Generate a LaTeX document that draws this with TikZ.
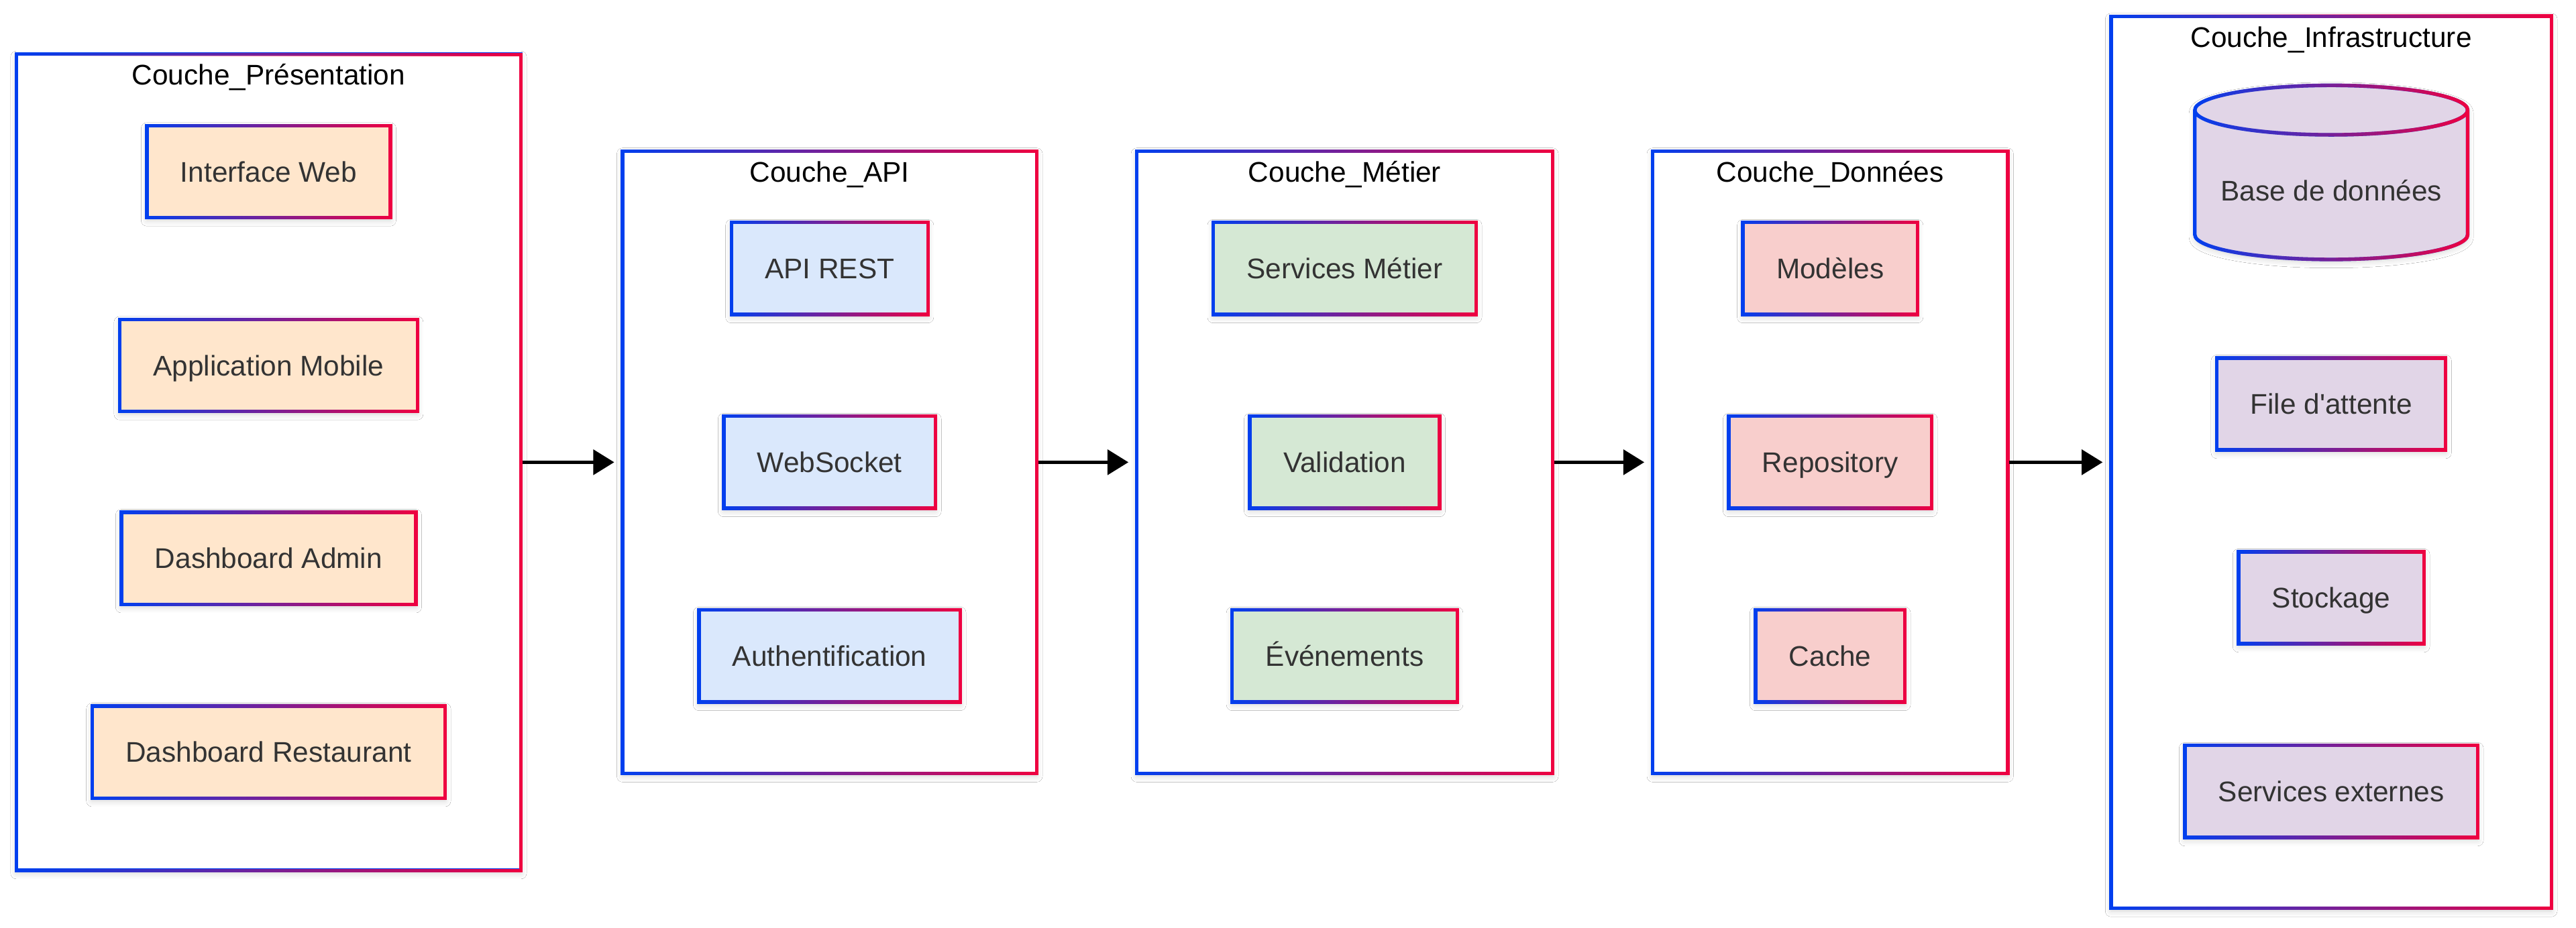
\documentclass[tikz,border=0pt]{standalone}
\usepackage{fontspec}
\setmainfont{Liberation Sans}[Ligatures=TeXOff]
\usetikzlibrary{arrows.meta,shapes.geometric,fadings,shadows.blur}

\definecolor{gblue}{RGB}{0,64,240}
\definecolor{gred}{RGB}{240,0,64}
\definecolor{txtgray}{HTML}{333333}
\definecolor{presfill}{HTML}{FFE6CC}
\definecolor{apifill}{HTML}{DAE8FC}
\definecolor{metfill}{HTML}{D5E8D4}
\definecolor{donfill}{HTML}{F8CECC}
\definecolor{infrafill}{HTML}{E1D5E7}

\tikzfading[name=fade in east, left color=transparent!100, right color=transparent!0]

\begin{document}
\begin{tikzpicture}[x=0.025cm, y=-0.025cm,
		gradborder/.style={draw=gblue, line width=1.55pt,
			postaction={draw=gred, line width=1.55pt, path fading=fade in east}},
		softshadow/.style={blur shadow={shadow xshift=0pt, shadow yshift=-1.2pt,
			shadow blur radius=2.5pt, shadow opacity=18}},
		layer/.style={rectangle, gradborder, fill=white, softshadow},
		comp/.style={rectangle, gradborder, softshadow, minimum height=1.4cm,
			inner xsep=0.51cm, text height=8.8pt, text depth=0pt, text=txtgray,
			font=\fontsize{12.3pt}{14pt}\selectfont},
		title/.style={anchor=base, font=\fontsize{12.3pt}{14pt}\selectfont},
		arr/.style={line width=1.55pt, -{Triangle[length=3.2mm, width=3.8mm]}, shorten >=1mm}]
		\fill[white] (0,0) rectangle (1568,565.1);
		\useasboundingbox (0,0) rectangle (1568,565.1);
		\def\yc{281.5}
		\def\xp{163.5}
		\def\xa{505}
		\def\xm{818.5}
		\def\xd{1114}
		\def\xi{1419}
		% layers
		\node[layer, minimum width=7.675cm, minimum height=12.425cm] (pres) at (\xp, \yc) {};
		\node[layer, minimum width=6.3cm, minimum height=9.475cm] (api) at (\xa, \yc) {};
		\node[layer, minimum width=6.325cm, minimum height=9.475cm] (metier) at (\xm, \yc) {};
		\node[layer, minimum width=5.4cm, minimum height=9.475cm] (donnees) at (\xd, \yc) {};
		\node[layer, minimum width=6.7cm, minimum height=13.575cm] (infra) at (\xi, \yc) {};
		\node[title] (tpres) at ([yshift=-5mm]pres.north) {Couche\_Présentation};
		\node[title] (tapi) at ([yshift=-5mm]api.north) {Couche\_API};
		\node[title] (tmetier) at ([yshift=-5mm]metier.north) {Couche\_Métier};
		\node[title] (tdonnees) at ([yshift=-5mm]donnees.north) {Couche\_Données};
		\node[title] (tinfra) at ([yshift=-5mm]infra.north) {Couche\_Infrastructure};
		% presentation
		\node[comp, fill=presfill] (web) at (\xp, 104.5) {Interface Web};
		\node[comp, fill=presfill] (mobile) at (\xp, 222.5) {Application Mobile};
		\node[comp, fill=presfill] (admin) at (\xp, 340) {Dashboard Admin};
		\node[comp, fill=presfill] (resto) at (\xp, 458) {Dashboard Restaurant};
		% api
		\node[comp, fill=apifill] (rest) at (\xa, 163.5) {API REST};
		\node[comp, fill=apifill] (ws) at (\xa, \yc) {WebSocket};
		\node[comp, fill=apifill] (auth) at (\xa, 399.5) {Authentification};
		% metier
		\node[comp, fill=metfill] (services) at (\xm, 163.5) {Services Métier};
		\node[comp, fill=metfill] (valid) at (\xm, \yc) {Validation};
		\node[comp, fill=metfill] (events) at (\xm, 399.5) {Événements};
		% donnees
		\node[comp, fill=donfill] (models) at (\xd, 163.5) {Modèles};
		\node[comp, fill=donfill] (repo) at (\xd, \yc) {Repository};
		\node[comp, fill=donfill] (cache) at (\xd, 399.5) {Cache};
		% infrastructure
		\node[comp, cylinder, shape border rotate=90, aspect=0.2, inner xsep=0.2cm,
			fill=infrafill, minimum width=4.15cm, minimum height=2.65cm,
			anchor=shape center] (db) at (\xi, 105) {Base de données};
		\node[comp, fill=infrafill] (queue) at (\xi, 246) {File d'attente};
		\node[comp, fill=infrafill] (storage) at (\xi, 364) {Stockage};
		\node[comp, fill=infrafill] (ext) at (\xi, 482) {Services externes};
		% flow between layers
		\draw[arr] (pres) -- (api);
		\draw[arr] (api) -- (metier);
		\draw[arr] (metier) -- (donnees);
		\draw[arr] (donnees) -- (infra);
	\end{tikzpicture}
\end{document}
